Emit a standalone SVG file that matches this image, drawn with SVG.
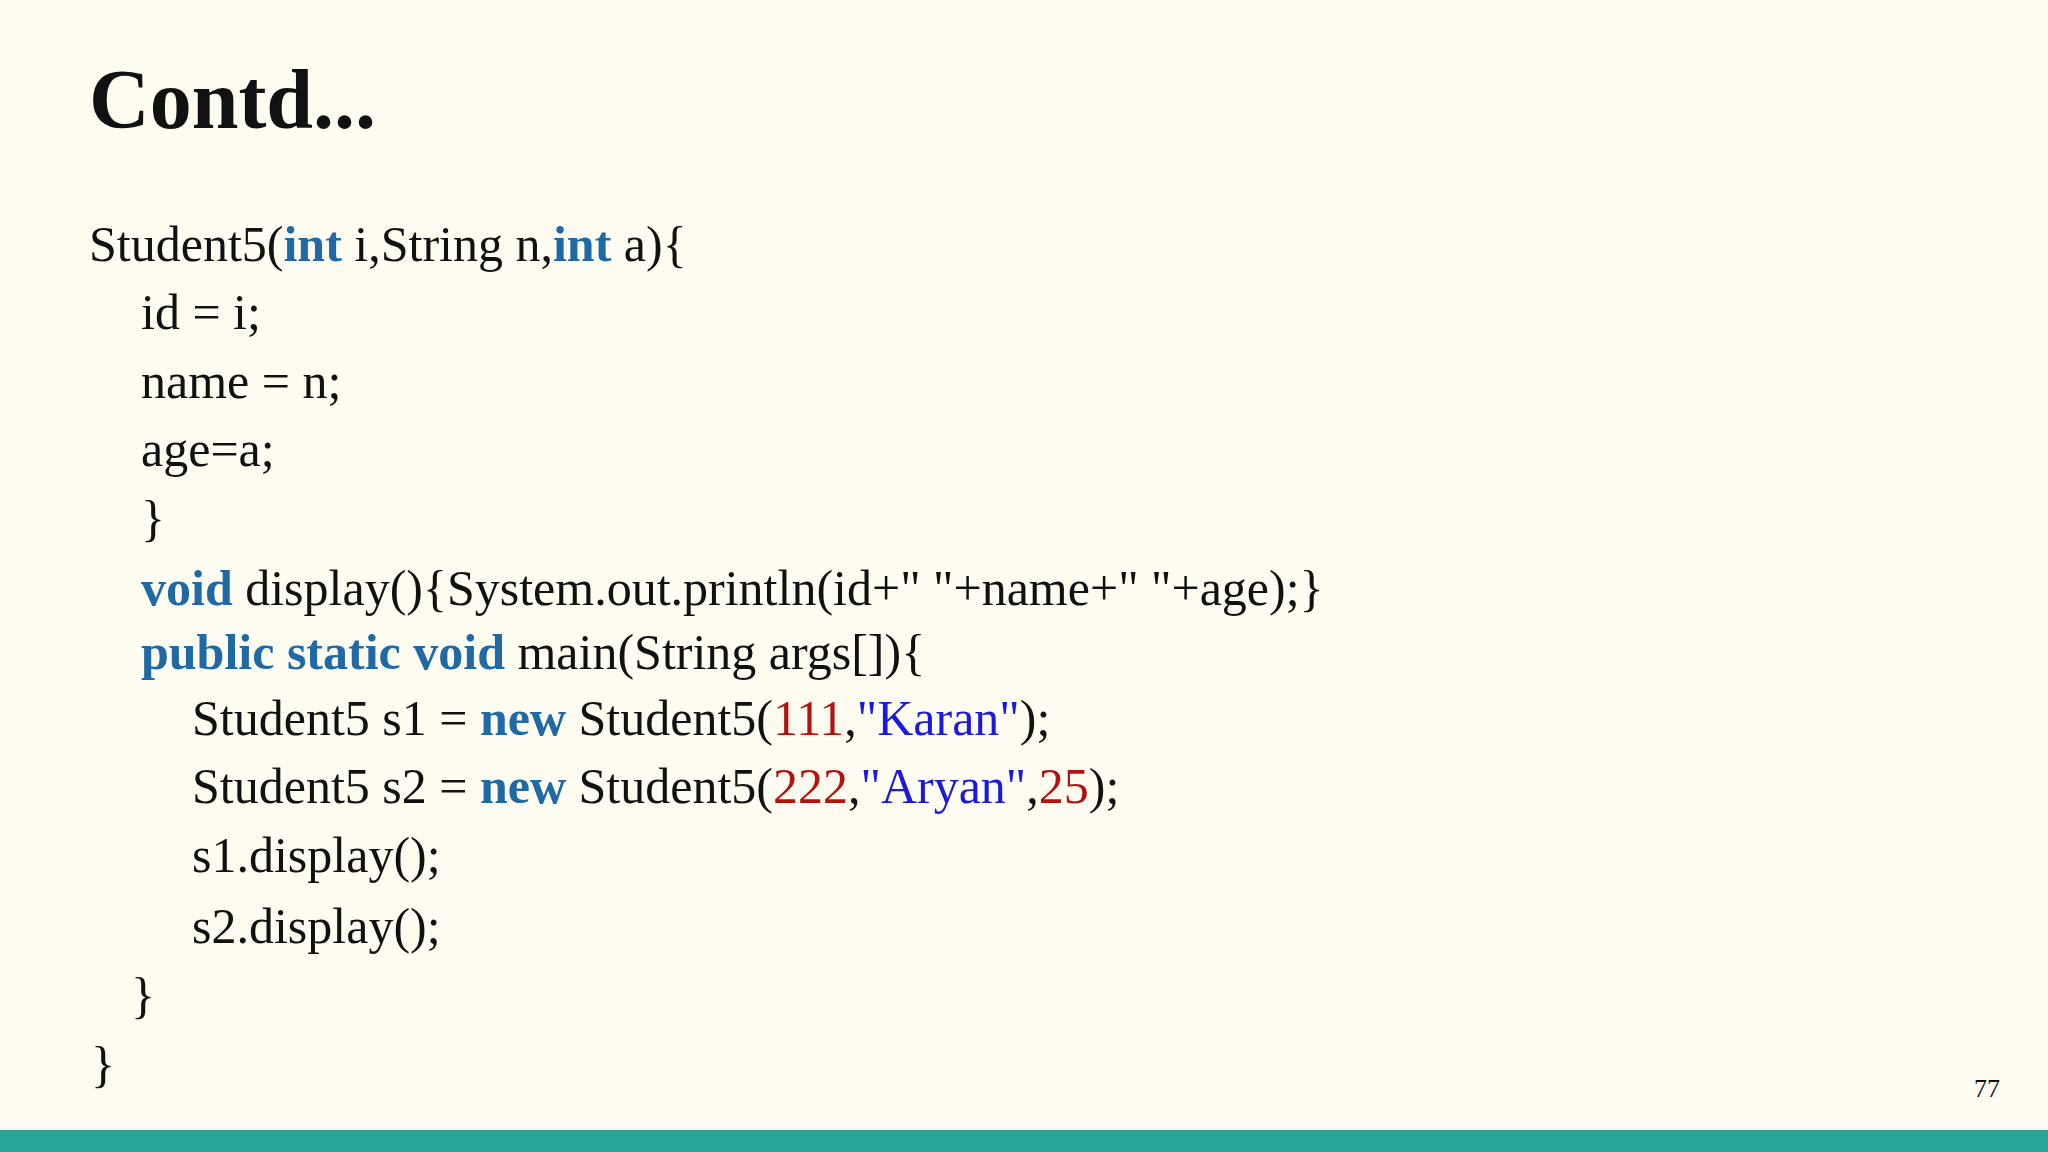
<svg xmlns="http://www.w3.org/2000/svg" width="2048" height="1152" viewBox="0 0 2048 1152">
<style>
text{font-family:"Liberation Serif","Times New Roman",serif;fill:#111}
.c{font-size:50px}
.k{fill:#1f6aa5;font-weight:bold}
.n{fill:#b3130f}
.s{fill:#1a1adf}
</style>
<rect width="2048" height="1152" fill="#fefcf0"/>
<rect y="1130" width="2048" height="22" fill="#28a597"/>
<g id="title"><text x="89" y="128" font-size="84" font-weight="bold">Contd...</text></g>
<g id="code">
<text class="c" x="89" y="261">Student5(<tspan class="k">int</tspan> i,String n,<tspan class="k">int</tspan> a){</text>
<text class="c" x="141" y="329">id = i;</text>
<text class="c" x="141" y="398">name = n;</text>
<text class="c" x="141" y="466">age=a;</text>
<text class="c" x="141" y="535">}</text>
<text class="c" x="141" y="605"><tspan class="k">void</tspan> display(){System.out.println(id+" "+name+" "+age);}</text>
<text class="c" x="141" y="669"><tspan class="k">public static void</tspan> main(String args[]){</text>
<text class="c" x="192" y="735">Student5 s1 = <tspan class="k">new</tspan> Student5(<tspan class="n">111</tspan>,<tspan class="s">"Karan"</tspan>);</text>
<text class="c" x="192" y="803">Student5 s2 = <tspan class="k">new</tspan> Student5(<tspan class="n">222</tspan>,<tspan class="s">"Aryan"</tspan>,<tspan class="n">25</tspan>);</text>
<text class="c" x="192" y="872">s1.display();</text>
<text class="c" x="192" y="943">s2.display();</text>
<text class="c" x="131" y="1012">}</text>
<text class="c" x="91" y="1081">}</text>
</g>
<g id="page"><text x="1987" y="1097" font-size="26" text-anchor="middle">77</text></g>
</svg>
